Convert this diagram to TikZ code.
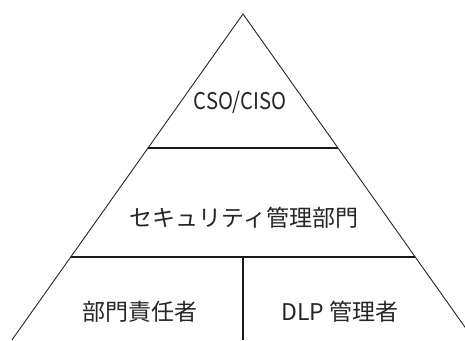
\documentclass[tikz,border=0pt]{standalone}
\usepackage{fontspec}
\newfontfamily\cjk{Noto Sans CJK JP}
\begin{document}
\begin{tikzpicture}[x=1pt,y=-1pt,
  edge/.style={draw=black!85,line width=0.9pt},
  divider/.style={draw=black!90,line width=2pt},
  lbl/.style={font=\cjk\fontsize{23}{25}\selectfont,text=black!85,inner sep=0pt},
  narrow/.style={lbl,xscale=0.88,transform shape}]
\useasboundingbox (0,0) rectangle (465,340);
\fill[white] (0,0) rectangle (465,340);
\clip (0,0) rectangle (465,340);
\coordinate (apex) at (243,14);
\coordinate (bl) at (11.9,340);
\coordinate (br) at (474.1,340);
\coordinate (h1l) at (148.4,147.5);
\coordinate (h1r) at (337.6,147.5);
\coordinate (h2l) at (70.7,257);
\coordinate (h2r) at (415.3,257);
\coordinate (vt) at (243,257);
\coordinate (vb) at (243,340);
\draw[edge] (bl) -- (apex) -- (br);
\draw[divider] (h1l) -- (h1r);
\draw[divider] (h2l) -- (h2r);
\draw[divider] (vt) -- (vb);
\node[narrow] (ciso) at (240,102) {CSO/CISO};
\node[lbl] (sec) at (244,218) {セキュリティ管理部門};
\node[lbl] (dept) at (140,312) {部門責任者};
\node[lbl] (dlp) at (340,312) {DLP 管理者};
\end{tikzpicture}
\end{document}
